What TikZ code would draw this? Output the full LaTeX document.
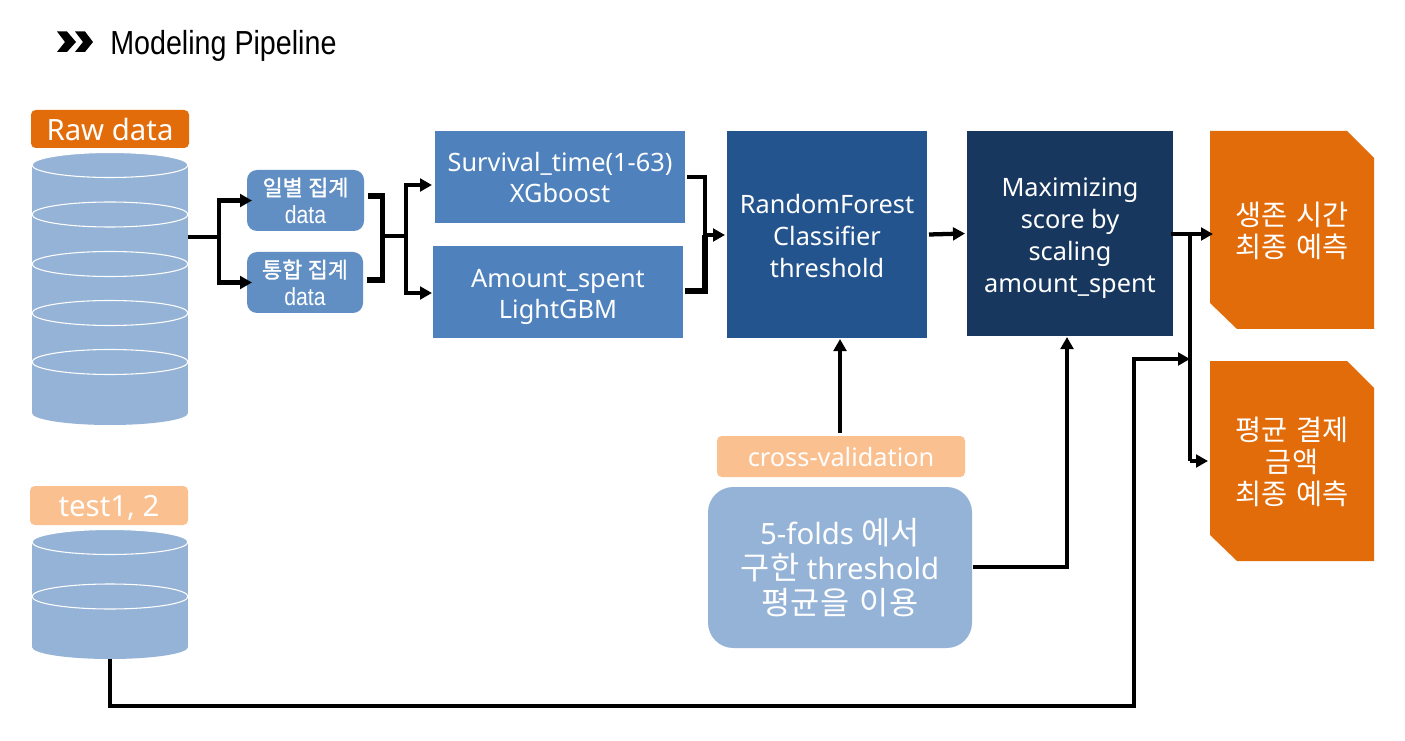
\documentclass[tikz,border=0pt]{standalone}
\usepackage{fontspec}
\usetikzlibrary{arrows.meta}
\setmainfont{Noto Sans}
\newfontfamily\kr[Scale=1.08,WordSpace=1.5]{Noto Sans CJK KR}
\newfontfamily\krb[Scale=1.08,WordSpace=1.1,FakeBold=1.5]{Noto Sans CJK KR}
\newfontfamily\ttl[FakeStretch=0.86]{Liberation Sans}
\definecolor{cOrange}{HTML}{E36C0A}
\definecolor{cPeach}{HTML}{FBC08F}
\definecolor{cPale}{HTML}{95B3D7}
\definecolor{cMid}{HTML}{628FC3}
\definecolor{cBlue}{HTML}{4F81BD}
\definecolor{cDeep}{HTML}{24548E}
\definecolor{cNavy}{HTML}{17375E}
\tikzset{
  x=0.75pt,y=-0.75pt,
  sized/.style 2 args={minimum width=#1*0.75pt,minimum height=#2*0.75pt,inner sep=0pt,outer sep=0pt,text=white,align=center},
  plain/.style={inner sep=0pt,outer sep=0pt,text=white,align=center},
  labelbox/.style={rounded corners=3.5pt},
  labeltext/.style={plain,font=\fontsize{22}{26}\selectfont},
  smallbox/.style={fill=cMid,rounded corners=7.5pt},
  smalltext/.style={plain,font=\fontsize{16.5}{20.5}\selectfont},
  midtext/.style={plain,font=\fontsize{19}{23.9}\selectfont},
  endtext/.style={plain,font=\kr\fontsize{19.7}{23.8}\selectfont},
  ring/.style={draw=white,line width=0.8pt,fill=cPale},
  conn/.style={draw=black,line width=3.2pt,line join=miter},
  tip/.style={-{Triangle[length=9pt,width=9.5pt]}},
  heavy/.style={draw=black,line width=3.8pt,line join=miter}
}
\begin{document}
\begin{tikzpicture}
\useasboundingbox[fill=white] (0,0) rectangle (1405,741);
% title
\fill[black] (57,31.5)--(67,31.5)--(76,42)--(67,52)--(57,52)--(65,42)--cycle;
\fill[black] (75,31.5)--(85,31.5)--(93,42)--(85,52)--(75,52)--(83,42)--cycle;
\node[anchor=west,inner sep=0pt,text=black,font=\ttl\fontsize{25}{29}\selectfont] (title) at (110,46) {Modeling Pipeline};
% raw data cylinder
\fill[cPale] (110,413) ellipse[x radius=78,y radius=12];
\fill[cPale] (32,165) rectangle (188,413);
\foreach \yy in {165,214.5,264,313,362}{
  \draw[ring] (110,\yy) ellipse[x radius=78,y radius=12.5];
}
\node[sized={156}{272}] (raw) at (110,289) {};
\node[sized={158}{38},labelbox,fill=cOrange] (rawlabel) at (110,129) {};
\node[labeltext] (rawtext) at ([yshift=-0.75pt]rawlabel.center) {Raw data};
% test cylinder
\fill[cPale] (110,647) ellipse[x radius=78,y radius=12];
\fill[cPale] (32,542) rectangle (188,647);
\foreach \yy in {542,596.5}{
  \draw[ring] (110,\yy) ellipse[x radius=78,y radius=12.5];
}
\node[sized={156}{129}] (test) at (110,594.5) {};
\node[sized={158}{39},labelbox,fill=cPeach] (testlabel) at (109,505.5) {};
\node[labeltext] (testtext) at ([yshift=-1.9pt]testlabel.center) {test1, 2};
% aggregation
\node[sized={117}{61},smallbox] (daily) at (305.5,200.5) {};
\node[smalltext] (dailytext) at (daily.center) {{\krb\fontsize{15.2}{20.5}\selectfont 일별 집계}\\{\ttl\fontsize{18.5}{20.5}\selectfont data}};
\node[sized={116}{61},smallbox] (total) at (305,282.5) {};
\node[smalltext] (totaltext) at (total.center) {{\krb\fontsize{15.2}{20.5}\selectfont 통합 집계}\\{\ttl\fontsize{18.5}{20.5}\selectfont data}};
% models
\node[sized={250}{92},fill=cBlue] (surv) at (560,177) {};
\node[midtext] (survtext) at ([yshift=-0.4pt]surv.center) {Survival\_time(1-63)\\XGboost};
\node[sized={250}{92},fill=cBlue] (amt) at (558,292) {};
\node[midtext] (amttext) at ([yshift=-3.75pt]amt.center) {Amount\_spent\\LightGBM};
\node[sized={200}{207},fill=cDeep] (rf) at (827,234.5) {};
\node[midtext] (rftext) at ([yshift=-1pt]rf.center) {RandomForest\\Classifier\\threshold};
\node[sized={206}{205},fill=cNavy] (max) at (1070,233.5) {};
\node[midtext] (maxtext) at ([yshift=-3.4pt]max.center) {Maximizing\\score by\\scaling\\amount\_spent};
% outputs
\fill[cOrange] (1210,131)--(1347,131)--(1374,158)--(1374,329)--(1237,329)--(1210,303)--cycle;
\node[sized={164}{198}] (out1) at (1292,230) {};
\node[endtext] (out1text) at ([yshift=-0.75pt]out1.center) {생존 시간\\최종 예측};
\fill[cOrange] (1210,361)--(1347,361)--(1374,388)--(1374,561)--(1237,561)--(1210,535)--cycle;
\node[sized={164}{200}] (out2) at (1292,461) {};
\node[endtext] (out2text) at ([yshift=-0.75pt]out2.center) {평균 결제\\금액\\최종 예측};
% cv
\node[sized={248}{41},fill=cPeach,rounded corners=3.5pt] (cv) at (841,456.5) {};
\node[plain,font=\fontsize{19}{23}\selectfont] (cvtext) at ([yshift=-0.6pt]cv.center) {cross-validation};
\node[sized={264}{161},fill=cPale,rounded corners=19pt] (folds) at (840,567.5) {};
\node[plain,font=\fontsize{22}{26.4}\selectfont] (foldstext) at ([yshift=0pt]folds.center) {5-folds {\kr 에서}\\{\kr 구한} threshold\\{\kr 평균을 이용}};
% connector points
\coordinate (j1) at (219,237);
\coordinate (b1a) at (368,196);
\coordinate (b1b) at (367,280);
\coordinate (b1c) at (382.5,236);
\coordinate (j2) at (406,236);
\coordinate (t1) at (432,185);
\coordinate (t2) at (432,293);
\coordinate (b2a) at (687,177);
\coordinate (b2b) at (685,291);
\coordinate (b2c) at (705,235);
\coordinate (j3) at (1190,234);
\coordinate (j4) at (1134,359);
\coordinate (j5) at (1134,706);
\coordinate (j6) at (110,706);
\coordinate (j7) at (1067,567);
\coordinate (j8) at (840,433);
\coordinate (t3) at (1208,461);
% connectors
\draw[conn] (raw.east |- j1) -- (j1);
\draw[conn,tip] (j1) |- ([xshift=3.75pt]daily.west);
\draw[conn,tip] (j1) |- ([xshift=3.75pt]total.west);
\draw[heavy] (b1a) -| (b1c) |- (b1b);
\draw[conn] (b1c) -- (j2);
\draw[conn,tip] (j2) |- (t1);
\draw[conn,tip] (j2) |- (t2);
\draw[conn] (b2a) -| (b2c);
\draw[heavy] (b2c) |- (b2b);
\draw[conn,tip] (b2c) -- ([xshift=-1.5pt]rf.west |- b2c);
\draw[conn,tip] ([xshift=1.5pt]rf.east) -- ([xshift=-1.5pt]max.west);
\draw[conn,tip] ([xshift=-1.5pt]max.east |- j3) -- ([xshift=2.25pt]out1.west |- j3);
\draw[conn] (j3) -- (j3 |- t3);
\draw[conn,tip] (j3 |- t3) -- (t3);
\draw[conn,tip] (test.south) -- (j6) -- (j5) -- (j4) -- (j3 |- j4);
\draw[conn,tip] (j8) -- ([yshift=-0.75pt]rf.south -| j8);
\draw[conn,tip] ([xshift=0.75pt]folds.east |- j7) -- (j7) -- ([yshift=-0.75pt]max.south -| j7);
\end{tikzpicture}
\end{document}
